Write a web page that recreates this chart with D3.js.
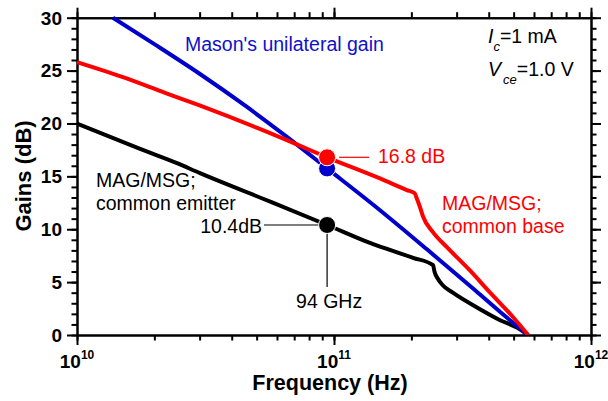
<!DOCTYPE html>
<html><head><meta charset="utf-8">
<script src="https://cdn.jsdelivr.net/npm/d3@7"></script>
<style>body{margin:0;background:#fff} svg{display:block} text{font-family:"Liberation Sans",Arial,sans-serif}</style>
</head><body><svg id="c" width="608" height="401"></svg>
<script>
// Data (frequency in GHz, gain in dB)
const masonFreqGHz = [13.8, 20, 30, 45, 65, 94, 151, 230, 355, 447, 569];
const masonGain    = [30, 27.5, 24.7, 21.7, 18.8, 15.75, 11.8, 8.1, 4.2, 2.1, 0];
const cbFreqGHz = [10, 15, 22, 30, 50, 72, 94, 151, 192, 206, 210, 216, 222, 243, 275, 338, 405, 497, 569];
const cbGain    = [25.8, 24.4, 22.9, 21.7, 19.6, 18.0, 16.8, 14.8, 13.7, 13.4, 12.9, 12.1, 11.2, 9.7, 8.3, 6.1, 4.0, 1.7, 0];
const ceFreqGHz = [10, 17.6, 24.5, 30.1, 51.5, 94, 138, 203, 243, 246, 254, 265, 290, 360, 443, 515, 569];
const ceGain    = [20.0, 17.6, 16.25, 15.3, 13.0, 10.4, 8.7, 7.3, 6.6, 6.0, 5.3, 4.7, 4.0, 2.6, 1.4, 0.7, 0];
const markerFreqGHz = 94;
const markerGains = {mason: 15.75, cb: 16.8, ce: 10.4};
const yTickLabels = [0, 5, 10, 15, 20, 25, 30];
const xTickExps = [10, 11, 12];

const svg = d3.select("#c");
const x = d3.scaleLog().domain([1e10, 1e12]).range([77, 591]);
const y = d3.scaleLinear().domain([0, 30]).range([335, 17.7]);
const X0 = 77, X1 = 591, Y0 = 335, Y1 = 17.7;

svg.append("defs").append("clipPath").attr("id", "clip")
  .append("rect").attr("x", X0).attr("y", Y1 - 2).attr("width", X1 - X0).attr("height", Y0 - Y1 + 2);

// axes
const yMinor = d3.range(0, 31, 1);
const xMinor = x.ticks();
const xMajor = xTickExps.map(e => Math.pow(10, e));
function styleAxis(g) {
  g.selectAll("path.domain").attr("stroke", "#000").attr("stroke-width", 2);
  g.selectAll(".tick line").attr("stroke", "#000").attr("stroke-width", 2);
  g.selectAll(".tick text").remove();
}
svg.append("g").attr("transform", `translate(${X0},0)`).call(d3.axisLeft(y).tickValues(yMinor).tickSize(5.5).tickSizeOuter(0)).call(styleAxis);
svg.append("g").attr("transform", `translate(${X0},0)`).call(d3.axisLeft(y).tickValues(yTickLabels).tickSize(10).tickSizeOuter(0)).call(styleAxis);
svg.append("g").attr("transform", `translate(${X1},0)`).call(d3.axisRight(y).tickValues(yMinor).tickSize(5.5).tickSizeOuter(0)).call(styleAxis);
svg.append("g").attr("transform", `translate(${X1},0)`).call(d3.axisRight(y).tickValues(yTickLabels).tickSize(10).tickSizeOuter(0)).call(styleAxis);
svg.append("g").attr("transform", `translate(0,${Y0})`).call(d3.axisBottom(x).tickValues(xMinor).tickSize(5.5).tickSizeOuter(0)).call(styleAxis);
svg.append("g").attr("transform", `translate(0,${Y0})`).call(d3.axisBottom(x).tickValues(xMajor).tickSize(10).tickSizeOuter(0)).call(styleAxis);
svg.append("g").attr("transform", `translate(0,${Y1})`).call(d3.axisTop(x).tickValues(xMinor).tickSize(5.5).tickSizeOuter(0)).call(styleAxis);
svg.append("g").attr("transform", `translate(0,${Y1})`).call(d3.axisTop(x).tickValues(xMajor).tickSize(10).tickSizeOuter(0)).call(styleAxis);

// tick labels
svg.append("g").selectAll("text").data(yTickLabels).join("text")
  .attr("x", 62).attr("y", d => y(d) + 6.8).attr("text-anchor", "end")
  .attr("font-size", 19).attr("font-weight", "bold").text(d => d);
const xl = svg.append("g").selectAll("text").data(xTickExps).join("text")
  .attr("x", d => x(Math.pow(10, d))).attr("y", 368).attr("text-anchor", "middle")
  .attr("font-size", 19).attr("font-weight", "bold");
xl.append("tspan").text("10");
xl.append("tspan").attr("dy", -9).attr("font-size", 12).text(d => d);

// titles
svg.append("text").attr("x", 330).attr("y", 390).attr("text-anchor", "middle")
  .attr("font-size", 21.5).attr("font-weight", "bold").text("Frequency (Hz)");
svg.append("text").attr("transform", "translate(31,176) rotate(-90)").attr("text-anchor", "middle")
  .attr("font-size", 22).attr("font-weight", "bold").text("Gains (dB)");

// curves
const line = d3.line().x(d => x(d[0] * 1e9)).y(d => y(d[1])).curve(d3.curveMonotoneX);
const plot = svg.append("g").attr("clip-path", "url(#clip)");
const series = [
  {f: ceFreqGHz, g: ceGain, c: "#000000"},
  {f: masonFreqGHz, g: masonGain, c: "#0000cc"},
  {f: cbFreqGHz, g: cbGain, c: "#ff0000"}
];
series.forEach(s => {
  plot.append("path").datum(d3.zip(s.f, s.g)).attr("d", line)
    .attr("fill", "none").attr("stroke", s.c).attr("stroke-width", 4).attr("stroke-linejoin", "round");
});

// leader lines
const fx = x(markerFreqGHz * 1e9);
svg.append("line").attr("x1", fx + 12).attr("x2", fx + 42).attr("y1", y(markerGains.cb)).attr("y2", y(markerGains.cb)).attr("stroke", "#ff0000").attr("stroke-width", 1.2);
svg.append("line").attr("x1", 264).attr("x2", fx).attr("y1", y(markerGains.ce)).attr("y2", y(markerGains.ce)).attr("stroke", "#000").attr("stroke-width", 1.2);
svg.append("line").attr("x1", fx).attr("x2", fx).attr("y1", y(markerGains.ce)).attr("y2", 287).attr("stroke", "#000").attr("stroke-width", 1.2);

// markers
[[markerGains.mason, "#0000cc"], [markerGains.cb, "#ff0000"], [markerGains.ce, "#000000"]].forEach(([g, c]) => {
  svg.append("circle").attr("cx", fx).attr("cy", y(g)).attr("r", 8.5).attr("fill", c).attr("stroke", "#fff").attr("stroke-width", 1);
});

// annotations
const ann = svg.append("g").attr("font-size", 19.5);
ann.append("text").attr("x", 185).attr("y", 51).attr("fill", "#1010cc").text("Mason's unilateral gain");
ann.append("text").attr("x", 378).attr("y", 163).attr("fill", "#ff0000").text("16.8 dB");
ann.append("text").attr("x", 442).attr("y", 210).attr("fill", "#ff0000").text("MAG/MSG;");
ann.append("text").attr("x", 442).attr("y", 233).attr("fill", "#ff0000").text("common base");
ann.append("text").attr("x", 96).attr("y", 187).attr("fill", "#000").text("MAG/MSG;");
ann.append("text").attr("x", 96).attr("y", 210).attr("fill", "#000").text("common emitter");
ann.append("text").attr("x", 262).attr("y", 233).attr("text-anchor", "end").attr("fill", "#000").text("10.4dB");
ann.append("text").attr("x", fx + 2).attr("y", 308).attr("text-anchor", "middle").attr("fill", "#000").text("94 GHz");

// bias conditions
const ic = ann.append("text").attr("x", 488).attr("y", 43).attr("fill", "#000");
ic.append("tspan").attr("font-style", "italic").text("I");
ic.append("tspan").attr("dx", 0).attr("dy", 8).attr("font-size", 13).attr("font-style", "italic").text("c");
ic.append("tspan").attr("dx", 0).attr("dy", -8).text("=1 mA");
const vce = ann.append("text").attr("x", 488).attr("y", 76).attr("fill", "#000");
vce.append("tspan").attr("font-style", "italic").text("V");
vce.append("tspan").attr("dx", 2).attr("dy", 8).attr("font-size", 13).attr("font-style", "italic").text("ce");
vce.append("tspan").attr("dx", 0).attr("dy", -8).text("=1.0 V");
</script></body></html>
